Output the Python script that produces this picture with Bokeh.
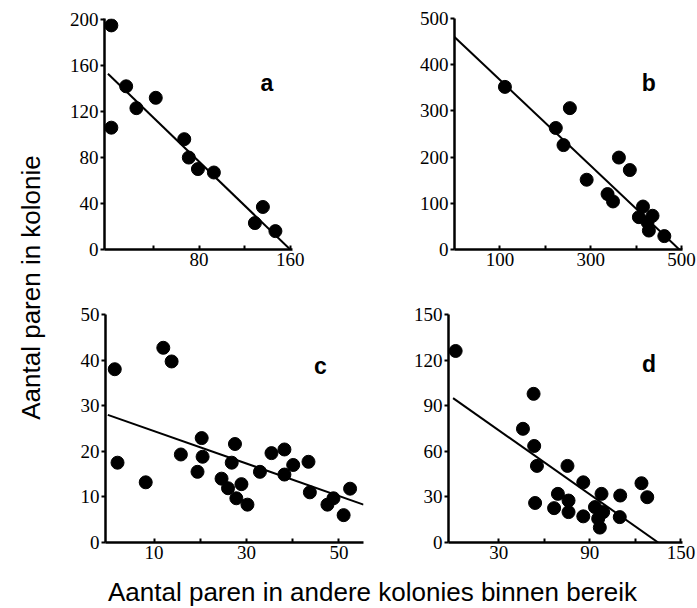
import math
from bokeh.plotting import figure
from bokeh.layouts import row, column
from bokeh.models import Range1d, FixedTicker, Label
from bokeh.embed import file_html
from bokeh.resources import INLINE

# ---- data ----
a_x = [3, 3, 16, 25, 42, 67, 71, 79, 93, 129, 136, 147]
a_y = [195, 106, 142, 123, 132, 96, 80, 70, 67, 23, 37, 16]
a_fit_x = [0, 160]
a_fit_y = [153, 0]
a_xticks = [40, 80, 120, 160]
a_xlabels = ["", "80", "", "160"]
a_yticks = [0, 40, 80, 120, 160, 200]

b_x = [111, 254, 223, 240, 291, 362, 386, 337, 349, 406, 415, 436, 428, 425, 462]
b_y = [352, 306, 263, 226, 151, 199, 172, 120, 104, 70, 93, 73, 41, 59, 29]
b_fit_x = [0, 495]
b_fit_y = [460, 0]
b_xticks = [100, 200, 300, 400, 500]
b_xlabels = ["100", "", "300", "", "500"]
b_yticks = [0, 100, 200, 300, 400, 500]

c_x = [1.5, 2.1, 8.2, 12, 13.8, 15.8, 20.3, 20.5, 19.4, 24.6, 26.8, 27.5, 26, 28.9,
       27.8, 30.2, 32.9, 35.4, 38.2, 38.2, 40.1, 43.4, 43.7, 47.5, 48.8, 51, 52.4]
c_y = [38, 17.5, 13.2, 42.7, 39.7, 19.3, 22.9, 18.8, 15.5, 14, 17.5, 21.6, 11.9, 12.8,
       9.7, 8.3, 15.5, 19.6, 20.4, 14.9, 17, 17.7, 11, 8.3, 9.7, 6, 11.8]
c_fit_x = [0, 55.3]
c_fit_y = [28, 8.3]
c_xticks = [10, 20, 30, 40, 50]
c_xlabels = ["10", "", "30", "", "50"]
c_yticks = [0, 10, 20, 30, 40, 50]

d_x = [1.7, 53, 46, 53.4, 55.2, 54, 75.3, 85.7, 69, 76, 66.5, 76, 85.7, 97.7, 93.4,
       98.8, 95.5, 96.6, 110, 109.7, 124, 127.8]
d_y = [126, 97.8, 74.8, 63.5, 50.4, 26, 50.4, 39.6, 32, 27.6, 22.6, 20, 17.2, 32, 23.3,
       20, 15.7, 9.8, 30.9, 16.7, 39, 29.8]
d_fit_x = [0, 135]
d_fit_y = [95, 0]
d_xticks = [30, 60, 90, 120, 150]
d_xlabels = ["30", "", "90", "", "150"]
d_yticks = [0, 30, 60, 90, 120, 150]

y_title = "Aantal paren in kolonie"
x_title = "Aantal paren in andere kolonies binnen bereik"

TICK_FONT = "Liberation Serif"
TICK_SIZE = "19px"


def panel(w, h, mbl, mbr, mbt, mbb, xr, yr, xticks, xlabels, yticks,
          xs, ys, fx, fy, letter, lx, ly):
    p = figure(width=w, height=h, x_range=Range1d(*xr), y_range=Range1d(*yr),
               output_backend="svg", toolbar_location=None,
               min_border_left=mbl, min_border_right=mbr,
               min_border_top=mbt, min_border_bottom=mbb)
    p.grid.visible = False
    p.outline_line_color = None
    p.background_fill_color = "white"
    p.border_fill_color = "white"

    xa = p.xaxis[0]
    xa.ticker = FixedTicker(ticks=xticks)
    xa.major_label_overrides = {t: l for t, l in zip(xticks, xlabels)}
    xa.major_tick_in = 4
    xa.major_tick_out = 0
    xa.major_label_standoff = 3
    ya = p.yaxis[0]
    ya.ticker = FixedTicker(ticks=yticks)
    ya.major_tick_in = 0
    ya.major_tick_out = 4
    ya.major_label_standoff = 2
    for ax in (xa, ya):
        ax.axis_line_width = 2.5
        ax.axis_line_color = "black"
        ax.major_tick_line_width = 2
        ax.major_tick_line_color = "black"
        ax.minor_tick_line_color = None
        ax.major_label_text_font = TICK_FONT
        ax.major_label_text_font_size = TICK_SIZE
        ax.major_label_text_color = "black"

    p.line(fx, fy, line_width=2, color="black")
    p.scatter(xs, ys, size=13, color="black")
    p.add_layout(Label(x=lx, y=ly, text=letter, text_font="Liberation Sans",
                       text_font_style="bold", text_font_size="23px",
                       text_align="center", text_baseline="alphabetic",
                       text_color="black"))
    return p


# screen layout (no page margin in bokeh's template): ylab 64 wide, left column 344, right 289
pa = panel(344, 278, 40, 116, 16, 29, (-3, 162), (0, 201), a_xticks, a_xlabels, a_yticks,
           a_x, a_y, a_fit_x, a_fit_y, "a", 139.5, 145)
pb = panel(289, 278, 46, 15, 18, 27, (0, 502), (0, 500), b_xticks, b_xlabels, b_yticks,
           b_x, b_y, b_fit_x, b_fit_y, "b", 428, 361)
pc = panel(344, 294, 41, 45, 33, 30, (-0.5, 55.3), (0, 50), c_xticks, c_xlabels, c_yticks,
           c_x, c_y, c_fit_x, c_fit_y, "c", 46, 38.7)
pd = panel(289, 294, 40, 15, 36, 28, (-3, 151), (0, 150), d_xticks, d_xlabels, d_yticks,
           d_x, d_y, d_fit_x, d_fit_y, "d", 129, 117.4)

ylab = figure(width=64, height=608, x_range=Range1d(0, 64), y_range=Range1d(0, 608),
              x_axis_type=None, y_axis_type=None, output_backend="svg",
              toolbar_location=None, min_border=0)
ylab.grid.visible = False
ylab.outline_line_color = None
ylab.add_layout(Label(x=30, y=321, text=y_title, angle=math.pi / 2,
                      text_font="Liberation Sans", text_font_size="26px",
                      text_align="center", text_baseline="middle", text_color="black"))

xlab = figure(width=633, height=36, x_range=Range1d(0, 633), y_range=Range1d(0, 36),
              x_axis_type=None, y_axis_type=None, output_backend="svg",
              toolbar_location=None, min_border=0)
xlab.grid.visible = False
xlab.outline_line_color = None
xlab.add_layout(Label(x=308, y=17, text=x_title,
                      text_font="Liberation Sans", text_font_size="26px",
                      text_align="center", text_baseline="middle", text_color="black"))

layout = row(ylab, column(row(pa, pb), row(pc, pd), xlab))

open("out.html", "w").write(file_html(layout, INLINE))
